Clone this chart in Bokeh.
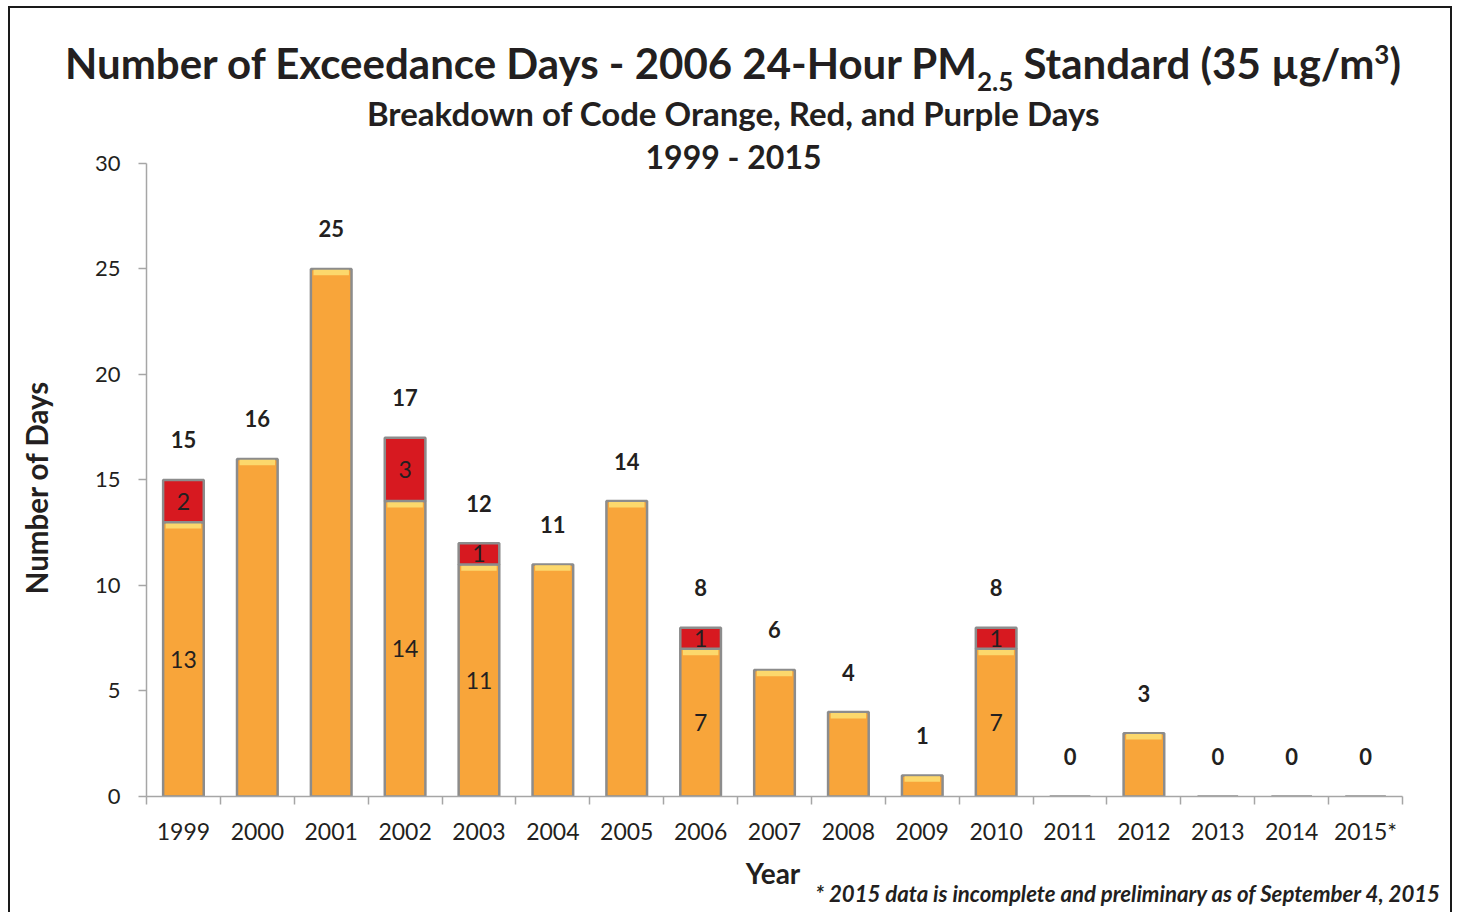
from bokeh.plotting import figure
from bokeh.models import Range1d, FixedTicker, Label, ColumnDataSource, Div
from bokeh.layouts import column, row
from bokeh.core.properties import value
from bokeh.embed import file_html
from bokeh.resources import INLINE

# ---------------- data ----------------
years = ["1999", "2000", "2001", "2002", "2003", "2004", "2005", "2006", "2007",
         "2008", "2009", "2010", "2011", "2012", "2013", "2014", "2015*"]
orange_days = [13, 16, 25, 14, 11, 11, 14, 7, 6, 4, 1, 7, 0, 3, 0, 0, 0]
red_days = [2, 0, 0, 3, 1, 0, 0, 1, 0, 0, 0, 1, 0, 0, 0, 0, 0]
y_ticks = [0, 5, 10, 15, 20, 25, 30]

title_main = "Number of Exceedance Days - 2006 24-Hour PM"
title_sub = "Breakdown of Code Orange, Red, and Purple Days"
title_years = "1999 - 2015"
y_title = "Number of Days"
x_title = "Year"
footnote = "* 2015 data is incomplete and preliminary as of September 4, 2015"

FONT = "Lato"
TXT = "#231f20"

n = len(years)
xs = [i + 0.5 for i in range(n)]
totals = [o + r for o, r in zip(orange_days, red_days)]

src = ColumnDataSource(dict(
    x=xs, year=years, orange=orange_days, red=red_days, total=totals,
    total_lbl=[str(t) for t in totals],
))

W = 1440          # inner width of the bordered box
HEAD_H = 86
YLAB_W = 56
FRAME_W, FRAME_H = 1256, 702
B_LEFT, B_RIGHT, B_TOP, B_BOTTOM = 80, 48, 0, 50
FIG_H = B_TOP + FRAME_H + B_BOTTOM
FOOT_H = 65
YTOP = 33.27  # frame reaches above 30 so the sub-titles can sit inside it

p = figure(frame_width=FRAME_W, frame_height=FRAME_H, output_backend="svg",
           toolbar_location=None, x_range=Range1d(0, n), y_range=Range1d(0, YTOP),
           min_border_left=B_LEFT, min_border_top=B_TOP, min_border_right=B_RIGHT,
           min_border_bottom=B_BOTTOM)
p.outline_line_color = None
p.xgrid.visible = False
p.ygrid.visible = False

# ---------------- bars ----------------
BW = 0.55
p.vbar(x="x", top="orange", bottom=0, width=BW, source=src,
       fill_color="#F8A53A", line_color="#8C8C8C", line_width=2.5)
hl = [(x, o) for x, o in zip(xs, orange_days) if o > 0]
p.vbar(x=[h[0] for h in hl], top=[h[1] - 0.04 for h in hl],
       bottom=[h[1] - 0.3 for h in hl], width=BW - 0.07,
       fill_color="#FCD86C", line_color=None)
rd = [(x, o, r) for x, o, r in zip(xs, orange_days, red_days) if r > 0]
p.vbar(x=[d[0] for d in rd], bottom=[d[1] for d in rd],
       top=[d[1] + d[2] for d in rd], width=BW,
       fill_color="#D71920", line_color="#8C8C8C", line_width=2.5)

p.text(x="x", y="total", text="total_lbl", source=src, y_offset=-40,
       text_align="center", text_baseline="middle", text_font=value(FONT),
       text_font_style="bold", text_font_size="22px", text_color=TXT)
p.text(x=[d[0] for d in rd], y=[d[1] / 2 for d in rd], text=[str(d[1]) for d in rd],
       text_align="center", text_baseline="middle", text_font=value(FONT),
       text_font_size="23px", text_color=TXT)
p.text(x=[d[0] for d in rd], y=[d[1] + d[2] / 2 for d in rd], text=[str(d[2]) for d in rd],
       text_align="center", text_baseline="middle", text_font=value(FONT),
       text_font_size="23px", text_color=TXT)

# ---------------- axes ----------------
p.yaxis.bounds = (0, 30)
p.yaxis.ticker = FixedTicker(ticks=y_ticks, minor_ticks=[])
p.yaxis.axis_line_color = "#A6A6A6"
p.yaxis.axis_line_width = 1.5
p.yaxis.major_tick_line_color = "#A6A6A6"
p.yaxis.major_tick_line_width = 1.5
p.yaxis.major_tick_out = 8
p.yaxis.major_tick_in = 0
p.yaxis.minor_tick_line_color = None
p.yaxis.major_label_text_font = FONT
p.yaxis.major_label_text_font_size = "22px"
p.yaxis.major_label_text_color = TXT
p.yaxis.major_label_standoff = 18

p.xaxis.ticker = FixedTicker(ticks=xs, minor_ticks=list(range(n + 1)))
p.xaxis.major_label_overrides = {x: y for x, y in zip(xs, years)}
p.xaxis.axis_line_color = "#A6A6A6"
p.xaxis.axis_line_width = 1.5
p.xaxis.major_tick_line_color = None
p.xaxis.minor_tick_line_color = "#A6A6A6"
p.xaxis.minor_tick_line_width = 1.5
p.xaxis.minor_tick_out = 8
p.xaxis.minor_tick_in = 0
p.xaxis.major_label_text_font = FONT
p.xaxis.major_label_text_font_size = "23px"
p.xaxis.major_label_text_color = TXT
p.xaxis.major_label_standoff = 12

# sub-titles inside the (extended) frame, in data units
TX = (733 - 146) / 73.88
p.add_layout(Label(x=TX, y=32.37, text=title_sub, text_font=FONT, text_font_size="33px",
                   text_font_style="bold", text_align="center", text_baseline="alphabetic",
                   text_color=TXT))
p.add_layout(Label(x=TX, y=30.32, text=title_years, text_font=FONT, text_font_size="32px",
                   text_font_style="bold", text_align="center", text_baseline="alphabetic",
                   text_color=TXT))

# ---------------- surrounding text blocks ----------------
head = Div(
    text=(f'<div style="position:relative;left:3px;font-family:{FONT};font-weight:bold;'
          f'font-size:42px;color:{TXT};text-align:center;width:{W}px;padding-top:31px;'
          f'line-height:48px;white-space:nowrap">{title_main}'
          '<span style="font-size:26px;line-height:0;position:relative;top:12px">2.5</span>'
          ' Standard (35 µg/m'
          '<span style="font-size:26px;line-height:0;position:relative;top:-15px">3</span>)</div>'),
    width=W, height=HEAD_H, styles={"margin": "0", "padding": "0"})

ylab = Div(
    text=(f'<div style="position:relative;width:{YLAB_W}px;height:{FIG_H}px">'
          f'<div style="position:absolute;left:27px;top:394px;'
          f'transform:translate(-50%,-50%) rotate(-90deg);white-space:nowrap;'
          f'font-family:{FONT};font-weight:bold;font-size:29.5px;line-height:1;'
          f'color:{TXT}">{y_title}</div></div>'),
    width=YLAB_W, height=FIG_H, styles={"margin": "0", "padding": "0"})

foot = Div(
    text=(f'<div style="position:relative;width:{W}px;height:{FOOT_H}px">'
          f'<div style="position:absolute;left:763px;top:26px;'
          f'transform:translate(-50%,-50%);white-space:nowrap;font-family:{FONT};'
          f'font-weight:bold;font-size:28px;line-height:1;color:{TXT}">{x_title}</div>'
          f'<div style="position:absolute;right:10px;top:36px;white-space:nowrap;'
          f'font-family:{FONT};font-weight:bold;font-style:italic;font-size:22.2px;'
          f'line-height:1;color:{TXT}">{footnote}</div></div>'),
    width=W, height=FOOT_H, styles={"margin": "0", "padding": "0"})

layout = column(head, row(ylab, p), foot,
                styles={"margin-left": "8px", "margin-top": "6px",
                        "border-top": "2px solid #1a1a1a",
                        "border-left": "2px solid #1a1a1a",
                        "border-right": "2px solid #1a1a1a"})

open("out.html", "w").write(file_html(layout, INLINE))
